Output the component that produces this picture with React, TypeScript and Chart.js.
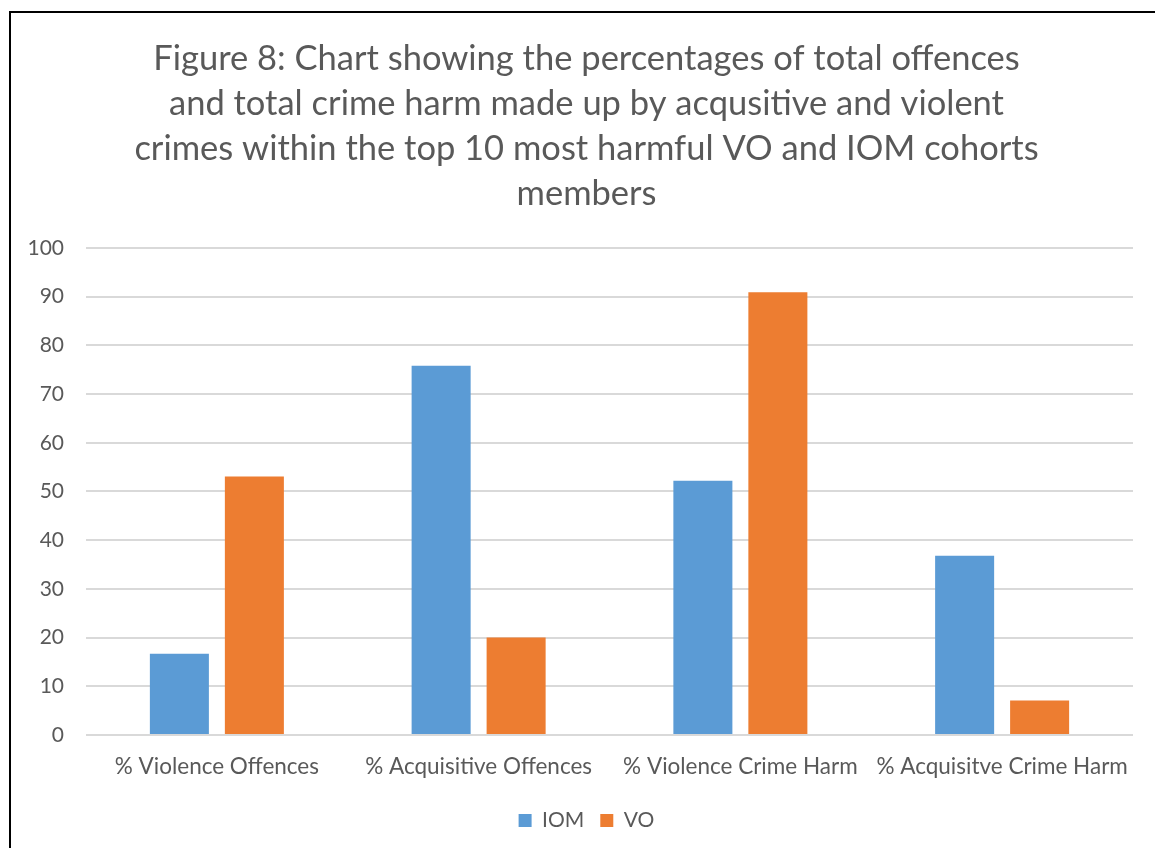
import React, { useEffect, useRef } from "react";
import { Chart, registerables } from "chart.js";

Chart.register(...registerables);

const categories = [
  "% Violence Offences",
  "% Acquisitive Offences",
  "% Violence Crime Harm",
  "% Acquisitve Crime Harm",
];
const iomValues = [16.7, 75.8, 52.2, 36.8];
const voValues = [53.1, 20.0, 90.9, 7.1];
const titleLines = [
  "Figure 8: Chart showing the percentages of total offences",
  "and total crime harm made up by acqusitive and violent",
  "crimes within the top 10 most harmful VO and IOM cohorts",
  "members",
];

const FONT = "Lato, 'Open Sans', sans-serif";
const TEXT = "#595959";

export default function App() {
  const ref = useRef<HTMLCanvasElement | null>(null);

  useEffect(() => {
    if (!ref.current) return;
    const chart = new Chart(ref.current, {
      type: "bar",
      data: {
        labels: categories,
        datasets: [
          {
            label: "IOM",
            data: iomValues,
            backgroundColor: "#5B9BD5",
            borderWidth: 0,
            yAxisID: "y",
          },
          {
            label: "VO",
            data: voValues,
            backgroundColor: "#ED7D31",
            borderWidth: 0,
            yAxisID: "y",
          },
        ],
      },
      options: {
        animation: false,
        responsive: false,
        maintainAspectRatio: false,
        layout: { padding: { left: 0, right: 0, top: 0, bottom: 7 } },
        datasets: {
          bar: { categoryPercentage: 0.573, barPercentage: 0.787 },
        },
        plugins: {
          title: {
            display: true,
            text: titleLines,
            color: TEXT,
            font: { family: FONT, size: 34.5, weight: "normal", lineHeight: 1.304 },
            padding: { top: 23, bottom: 32 },
          },
          legend: {
            position: "bottom",
            labels: {
              color: TEXT,
              font: { family: FONT, size: 21 },
              boxWidth: 13,
              boxHeight: 13,
              padding: 16,
            },
          },
          tooltip: { enabled: false },
        },
        scales: {
          x: {
            afterFit: (s: any) => {
              s.height = 59;
            },
            grid: { display: false },
            border: { display: false },
            ticks: {
              color: TEXT,
              font: { family: FONT, size: 22.5 },
              padding: 10,
              maxRotation: 0,
            },
          },
          y: {
            min: 0,
            max: 100,
            afterFit: (s: any) => {
              s.width = 75;
            },
            grid: { color: "#D9D9D9", lineWidth: 2, drawTicks: false },
            border: { display: false },
            ticks: {
              stepSize: 10,
              color: TEXT,
              font: { family: FONT, size: 21 },
              padding: 22,
            },
          },
          // empty right-hand margin axis so the plot ends short of the frame
          yRight: {
            position: "right",
            min: 0,
            max: 100,
            afterFit: (s: any) => {
              s.width = 29;
            },
            grid: { drawOnChartArea: false, drawTicks: false },
            border: { display: false },
            ticks: { display: false },
          },
        },
      },
    });
    return () => chart.destroy();
  }, []);

  return (
    <div
      style={{
        position: "fixed",
        inset: 0,
        overflow: "hidden",
        background: "#fff",
      }}
    >
      <div
        style={{
          position: "absolute",
          left: 9,
          top: 11,
          width: 1155,
          height: 850,
          border: "2px solid #000",
          boxSizing: "border-box",
        }}
      >
        <canvas ref={ref} width={1151} height={835} style={{ display: "block" }} />
      </div>
    </div>
  );
}
